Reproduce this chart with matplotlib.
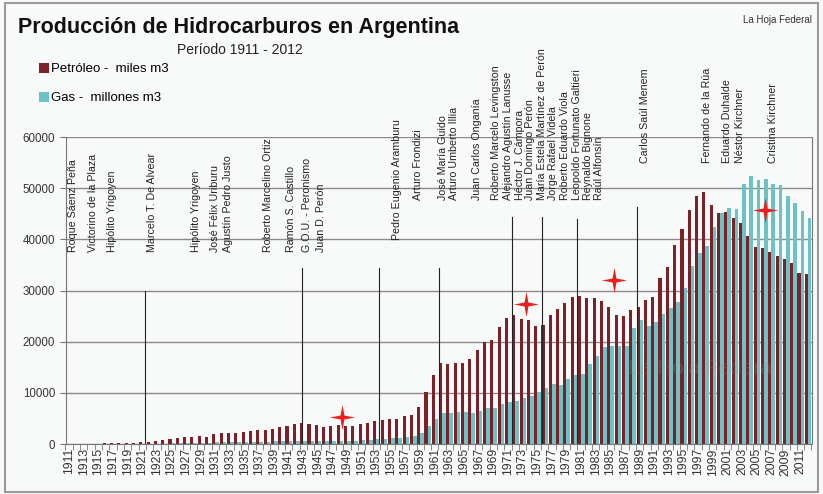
import numpy as np
import matplotlib
matplotlib.use("Agg")
import matplotlib.pyplot as plt
from matplotlib.path import Path
from matplotlib.patches import Rectangle

plt.rcParams['font.family'] = ['Liberation Sans', 'DejaVu Sans']

years = list(range(1911, 2013))

# Petróleo - miles m3
petroleo = [2, 7, 21, 44, 82, 138, 181, 198, 188, 264,
            351, 414, 522, 741, 953, 1250, 1372, 1440, 1497, 1431,
            1863, 2062, 2181, 2220, 2270, 2496, 2640, 2753, 2964, 3300,
            3500, 3840, 4040, 3840, 3650, 3390, 3520, 3650, 3580, 3580,
            3840, 4040, 4550, 4690, 4880, 4880, 5470, 5730, 7160, 10090,
            13480, 15760, 15560, 15880, 15880, 16600, 18360, 19980, 20300, 22900,
            24670, 25200, 24480, 24150, 23050, 23240, 25200, 26370, 27480, 28650,
            28900, 28500, 28500, 27990, 26690, 25200, 25000, 26170, 26690, 28120,
            28650, 32360, 34630, 38800, 41930, 45700, 48500, 49270, 46680, 45050,
            45370, 44200, 43100, 40680, 38530, 38210, 37430, 36710, 36130, 35290,
            33340, 33200]

# Gas - millones m3
gas = [0, 0, 0, 0, 0, 0, 0, 0, 0, 20,
       40, 50, 60, 80, 100, 130, 150, 180, 220, 250,
       300, 320, 350, 380, 400, 420, 450, 480, 500, 520,
       550, 580, 600, 600, 580, 560, 560, 580, 600, 620,
       700, 800, 900, 1000, 1100, 1200, 1350, 1550, 2080, 3450,
       4900, 6000, 6000, 6320, 6320, 6000, 6450, 6970, 7100, 7750,
       8140, 8400, 8920, 9440, 10220, 11000, 11750, 11520, 12690, 13480,
       13670, 15620, 17250, 18880, 19200, 19200, 19200, 22720, 24220, 23110,
       23890, 25390, 26650, 27790, 30530, 34760, 37240, 38670, 42440, 45050,
       46030, 45900, 50780, 52340, 51690, 51880, 50910, 50580, 48500, 47130,
       45570, 44200]

# presidentes: nombre, año (posición), nivel inferior del texto
presidentes = [
    ("Roque Sáenz Peña", 1911.55, 37500),
    ("Victorino de la Plaza", 1914.3, 37500),
    ("Hipólito Yrigoyen", 1916.8, 37500),
    ("Marcelo T. De Alvear", 1922.27, 37500),
    ("Hipólito Yrigoyen", 1928.4, 37500),
    ("José Félix Uriburu", 1930.9, 37500),
    ("Agustín Pedro Justo", 1932.7, 37500),
    ("Roberto Marcelino Ortiz", 1938.2, 37500),
    ("Ramón S. Castillo", 1941.4, 37500),
    ("G.O.U. - Peronismo", 1943.46, 37500),
    ("Juan D. Perón", 1945.5, 37500),
    ("Pedro Eugenio Aramburu", 1955.76, 39800),
    ("Arturo Frondizi", 1958.7, 47700),
    ("José María Guido", 1962.05, 47700),
    ("Arturo Umberto Illia", 1963.6, 47700),
    ("Juan Carlos Onganía", 1966.7, 47700),
    ("Roberto Marcelo Levingston", 1969.4, 47700),
    ("Alejandro Agustín Lanusse", 1971.0, 47700),
    ("Héctor J. Cámpora", 1972.6, 47700),
    ("Juan Domingo Perón", 1974.0, 47700),
    ("María Estela Martínez de Perón", 1975.6, 47700),
    ("Jorge Rafael Videla", 1977.2, 47700),
    ("Roberto Eduardo Viola", 1978.8, 47700),
    ("Leopoldo Fortunato Galtieri", 1980.4, 47700),
    ("Reynaldo Bignone", 1982.0, 47700),
    ("Raúl Alfonsín", 1983.4, 47700),
    ("Carlos Saúl Menem", 1989.7, 55000),
    ("Fernando de la Rúa", 1998.15, 55000),
    ("Eduardo Duhalde", 2000.9, 55000),
    ("Néstor Kirchner", 2002.7, 55000),
    ("Cristina Kirchner", 2007.25, 55000),
]

# lineas verticales: año, altura
lineas_x = [1921.35, 1942.86, 1953.4, 1961.6, 1971.5, 1975.7, 1980.5, 1988.7]
lineas_h = [30000, 34400, 34400, 34400, 44300, 44300, 43900, 46400]

# estrellas
estrellas_x = [1948.24, 1973.4, 1985.47, 2006.1]
estrellas_y = [5330, 27280, 32030, 45700]

rojo = '#7b2127'
celeste = '#6cc3c5'

fig = plt.figure(figsize=(8.23, 4.94), dpi=100, facecolor='#f8f9f9')
ax = fig.add_axes([65.5/823, 50/494, 746/823, 307/494])
ax.set_facecolor('#f8f9f9')

x = np.array(years)
ax.yaxis.grid(True, color='#8a8a8a', lw=1)
ax.set_axisbelow(True)
b1 = ax.bar(x - 0.21, petroleo, width=0.42, color=rojo, label='Petróleo -  miles m3', zorder=2)
b2 = ax.bar(x + 0.25, gas, width=0.5, color=celeste, label='Gas -  millones m3', zorder=2)

for lx, lh in zip(lineas_x, lineas_h):
    ax.plot([lx, lx], [0, lh], color='#222222', lw=0.8, zorder=3)

for nombre, px, py in presidentes:
    ax.text(px, py, nombre, rotation=90, ha='center', va='bottom',
            fontsize=7.7, color='#222222', clip_on=False)

# estrella de cuatro puntas
ang = np.deg2rad(np.arange(0, 360, 45) + 90)
rad = np.array([1, 0.22] * 4)
verts = np.column_stack([rad * np.cos(ang), rad * np.sin(ang)])
verts = np.vstack([verts, verts[0]])
star = Path(verts, [Path.MOVETO] + [Path.LINETO] * 7 + [Path.CLOSEPOLY])
ax.scatter(estrellas_x, estrellas_y, marker=star, s=330, color='#e8211f', zorder=5, lw=0)

ax.text(1997.5, 14800, 'La Hoja Federal', fontsize=15, color='#999999', alpha=0.25,
        ha='center', va='center', zorder=4)

ax.set_xlim(1910.5, 2012.5)
ax.set_ylim(0, 60000)
ax.set_yticks(range(0, 60001, 10000))
ax.tick_params(axis='y', labelsize=8.3, colors='#333333', length=4, color='#777777')
ax.set_xticks(years[::2])
ax.set_xticklabels([str(a) for a in years[::2]], rotation=90, fontsize=8.8, color='#333333')
ax.tick_params(axis='x', which='major', length=0, pad=3)
ax.set_xticks(np.arange(1910.5, 2013, 1), minor=True)
ax.tick_params(axis='x', which='minor', length=4, color='#777777')
for s in ['left', 'right', 'bottom']:
    ax.spines[s].set_color('#777777')
ax.spines['top'].set_visible(False)

fig.text(18/823, 1 - 28/494, 'Producción de Hidrocarburos en Argentina', fontsize=15.5,
         fontweight='bold', color='#111111', va='center')
fig.text(240/823, 1 - 50/494, 'Período 1911 - 2012', fontsize=10, color='#222222',
         ha='center', va='center')
fig.text(812/823, 1 - 20/494, 'La Hoja Federal', fontsize=7, color='#333333',
         ha='right', va='center')

ax.legend(handles=[b1, b2], loc='upper left', bbox_to_anchor=(39/823, 1 - 63/494),
          bbox_transform=fig.transFigure, frameon=False, fontsize=9.5,
          handlelength=0.75, handleheight=0.75, handletextpad=0.15,
          labelspacing=1.25, borderpad=0, borderaxespad=0)

fig.patches.append(Rectangle((5/823, 2/494), 813/823, 489/494, transform=fig.transFigure,
                             fill=False, edgecolor='#9a9a9a', lw=1.5))

fig.savefig('out.png', dpi=100, facecolor=fig.get_facecolor())
